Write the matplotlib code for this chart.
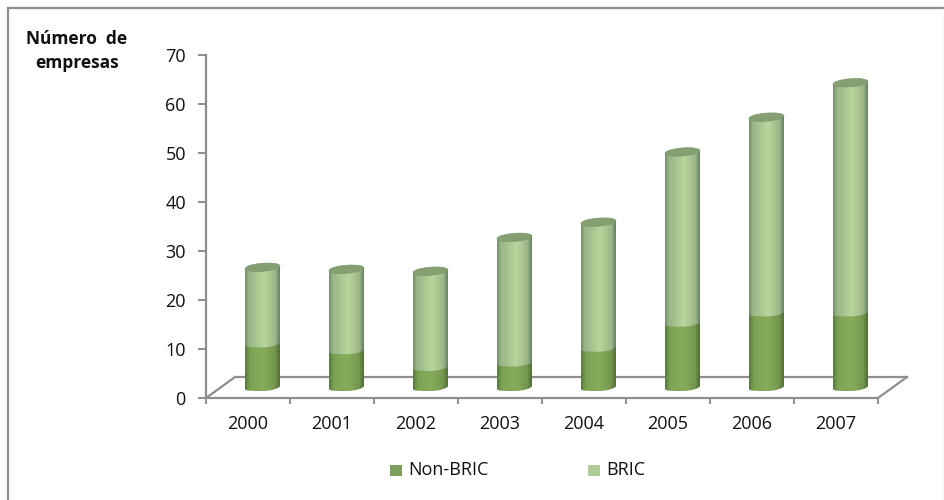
import matplotlib
matplotlib.use("Agg")
import matplotlib.pyplot as plt
import matplotlib.transforms as mtrans
from matplotlib.colors import LinearSegmentedColormap
from matplotlib.lines import Line2D
from matplotlib.patches import Ellipse, PathPatch, Rectangle
from matplotlib.path import Path
import numpy as np

plt.rcParams['font.family'] = ['Open Sans', 'DejaVu Sans']

years = ['2000', '2001', '2002', '2003', '2004', '2005', '2006', '2007']
non_bric = [8.9, 7.5, 4.1, 5.0, 8.0, 13.1, 15.2, 15.2]
bric = [15.6, 16.6, 19.6, 25.6, 25.7, 34.9, 39.9, 46.9]

W, H = 944, 500
fig = plt.figure(figsize=(W / 100, H / 100), dpi=100)
fig.patch.set_facecolor('white')

# plot area in pixels, from the reference
left, right, top, bottom = 206, 878, 54.5, 398
ax = fig.add_axes([left / W, 1 - bottom / H, (right - left) / W, (bottom - top) / H])
ax.set_xlim(0, 8)
ax.set_ylim(0, 70)
ax.patch.set_visible(False)

grey = '#8e8e8e'
for s in ['top', 'right']:
    ax.spines[s].set_visible(False)
for s in ['left', 'bottom']:
    ax.spines[s].set_color(grey)
    ax.spines[s].set_linewidth(1.6)
ax.set_yticks(range(0, 71, 10))
ax.set_xticks(range(0, 9))
ax.set_xticklabels([])
ax.tick_params(axis='y', color=grey, width=1.4, length=5.5, labelsize=13, labelcolor='#111111', pad=9)
ax.tick_params(axis='x', color=grey, width=1.4, length=4.5)
for i, y in enumerate(years):
    ax.text(i + 0.5, -0.075, y, transform=ax.get_xaxis_transform(), ha='center', va='center',
            fontsize=13, color='#111111')


def offset(dx, dy):
    return ax.transData + mtrans.Affine2D().translate(dx, dy)


# floor of the 3D box
depth_x, depth_y = 29, 21
ax.plot([0, 8], [0, 0], color=grey, lw=1.6, transform=offset(depth_x, depth_y), clip_on=False, zorder=1)
for px, py in ax.transData.transform([(0, 0), (8, 0)]):
    ax.plot([px, px + depth_x], [py, py + depth_y], color=grey, lw=1.6,
            transform=mtrans.IdentityTransform(), clip_on=False, zorder=1)

dark = LinearSegmentedColormap.from_list('dark', [(0, '#5a7a42'), (0.14, '#7ba352'), (0.5, '#86ad5c'),
                                                  (0.85, '#76994f'), (1, '#54703a')])
light = LinearSegmentedColormap.from_list('light', [(0, '#748e6a'), (0.1, '#9ab488'), (0.55, '#b9d69b'),
                                                    (0.88, '#9cb68a'), (1, '#688264')])
grad = np.linspace(0, 1, 64).reshape(1, -1)

bar_w = 35 / 84
mid = offset(depth_x / 2, depth_y / 2)
ell_h = 7 / 4.9
tilt = 3.0 / 4.9


def body(x0, x1, y0, y1, k=0.5523):
    # cylinder slice: straight top (hidden), round front edge at the bottom, left end lower
    c = (x0 + x1) / 2
    h = ell_h / 2
    t = tilt / 2
    r = (x1 - x0) / 2
    verts = [(x0, y0 - t), (x0, y1 - t), (x1, y1 + t), (x1, y0 + t),
             (x1, y0 + t - h * k), (c + r * k, y0 - h), (c, y0 - h),
             (c - r * k, y0 - h), (x0, y0 - t - h * k), (x0, y0 - t),
             (x0, y0 - t)]
    codes = [Path.MOVETO, Path.LINETO, Path.LINETO, Path.LINETO,
             Path.CURVE4, Path.CURVE4, Path.CURVE4,
             Path.CURVE4, Path.CURVE4, Path.CURVE4, Path.CLOSEPOLY]
    return Path(verts, codes)


for i in range(len(years)):
    x0, x1 = i + 0.5 - bar_w / 2, i + 0.5 + bar_w / 2
    total = non_bric[i] + bric[i]
    # dark segment first, the light one hangs over its top end
    for y0, y1, cmap, z in [(0, non_bric[i] + 1, dark, 3), (non_bric[i], total, light, 4)]:
        clip = PathPatch(body(x0, x1, y0, y1), transform=mid, facecolor='none', edgecolor='none')
        ax.add_patch(clip)
        im = ax.imshow(grad, cmap=cmap, extent=[x0, x1, y0 - 3, y1 + 3], aspect='auto',
                       transform=mid, zorder=z, interpolation='bilinear')
        im.set_clip_path(clip)
    # top cap
    px = mid.transform([(i + 0.5, total)])[0]
    cap = Ellipse(px, 35, 8, angle=4.5, facecolor='#84a070', edgecolor='#7d9870', lw=0.5,
                  transform=mtrans.IdentityTransform(), zorder=5)
    ax.add_patch(cap)
ax.set_xlim(0, 8)
ax.set_ylim(0, 70)

# outer frame runs off the image at the bottom, right side is only faint
fig.add_artist(Line2D([7.5 / W, 7.5 / W], [0, 1 - 8 / H], color=grey, lw=1.6))
fig.add_artist(Line2D([7.5 / W, 1], [1 - 8 / H, 1 - 8 / H], color=grey, lw=1.6))
fig.add_artist(Line2D([943.5 / W, 943.5 / W], [0, 1 - 8 / H], color='#e4e4e4', lw=1))

fig.text(77 / W, 1 - 39 / H, 'Número  de', ha='center', va='center', fontsize=12.5, fontweight='bold', color='#111111')
fig.text(77 / W, 1 - 63 / H, 'empresas', ha='center', va='center', fontsize=12.5, fontweight='bold', color='#111111')

# legend
fig.add_artist(Rectangle((390 / W, 1 - 476 / H), 12 / W, 11 / H, transform=fig.transFigure,
                         facecolor='#7fa05a', edgecolor='none'))
fig.text(408 / W, 1 - 470 / H, 'Non-BRIC', ha='left', va='center', fontsize=13, color='#111111')
fig.add_artist(Rectangle((588 / W, 1 - 476 / H), 12 / W, 11 / H, transform=fig.transFigure,
                         facecolor='#b0cc96', edgecolor='none'))
fig.text(606 / W, 1 - 470 / H, 'BRIC', ha='left', va='center', fontsize=13, color='#111111')

fig.savefig('out.png', dpi=100)
